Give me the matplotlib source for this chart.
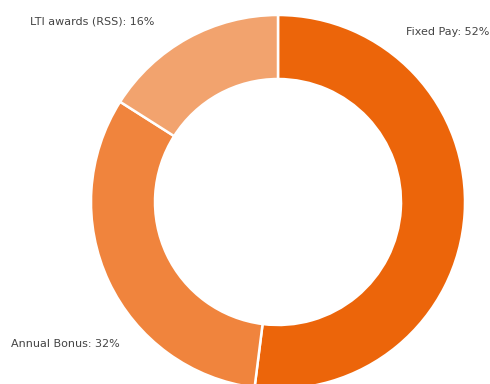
import matplotlib.pyplot as plt

labels = ["Fixed Pay", "Annual Bonus", "LTI awards (RSS)"]
shares = [52, 32, 16]
colors = ["#EC650A", "#F0843D", "#F2A36E"]

# label anchors in pixel space (x, y from top) and alignment
label_pos = [(489, 32, "right"), (11, 344, "left"), (30, 22, "left")]

W, H = 490, 384
fig = plt.figure(figsize=(W / 100, H / 100), dpi=100)
ax = fig.add_axes([0, 0, 1, 1])

ax.pie(
    shares,
    colors=colors,
    startangle=90,
    counterclock=False,
    center=(278, H - 202),
    radius=187,
    wedgeprops=dict(width=64, edgecolor="white", linewidth=1.8),
)

for lab, val, (x, y, ha) in zip(labels, shares, label_pos):
    ax.text(x, H - y, f"{lab}: {val}%", ha=ha, va="center",
            fontsize=8, color="#444444")

ax.set_xlim(0, W)
ax.set_ylim(0, H)
ax.set_aspect("equal")
ax.axis("off")

fig.savefig("out.png", dpi=100)
